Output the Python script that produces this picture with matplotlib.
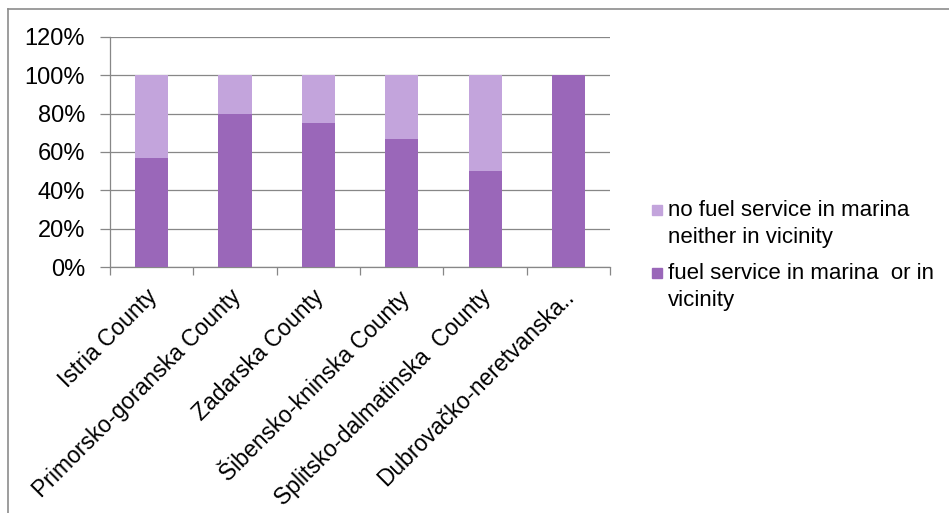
import matplotlib
matplotlib.use("Agg")
import matplotlib.pyplot as plt
import matplotlib.transforms as mtransforms
import numpy as np
from matplotlib.lines import Line2D
from matplotlib.patches import Rectangle
from matplotlib.ticker import FixedLocator, PercentFormatter

plt.rcParams["font.family"] = ["Liberation Sans", "DejaVu Sans"]

counties = [
    "Istria County",
    "Primorsko-goranska County",
    "Zadarska County",
    "Šibensko-kninska County",
    "Splitsko-dalmatinska  County",
    "Dubrovačko-neretvanska..",
]
fuel_share = [0.57, 0.80, 0.75, 0.667, 0.50, 1.00]
no_fuel_share = [0.43, 0.20, 0.25, 0.333, 0.50, 0.00]

label_fuel = "fuel service in marina  or in\nvicinity"
label_no_fuel = "no fuel service in marina\nneither in vicinity"

dark = "#9a67b9"
light = "#c3a4dc"
grid_grey = "#878787"

W, H = 949, 513
fig = plt.figure(figsize=(W / 100, H / 100), dpi=100)
ax = fig.add_axes([0.116, 0.4795, 0.527, 0.4485])

centers = np.arange(len(counties)) + 0.5
ax.bar(centers, fuel_share, width=0.4, color=dark, zorder=3)
ax.bar(centers, no_fuel_share, width=0.4, bottom=fuel_share, color=light, zorder=3)

ax.set_xlim(0, len(counties))
ax.set_ylim(0, 1.2)
ax.yaxis.set_major_locator(FixedLocator(np.arange(0, 1.21, 0.2)))
ax.yaxis.set_major_formatter(PercentFormatter(1.0, decimals=0))
ax.grid(axis="y", color=grid_grey, linewidth=0.9, zorder=0)

for s in ["top", "right"]:
    ax.spines[s].set_visible(False)
for s in ["left", "bottom"]:
    ax.spines[s].set_color(grid_grey)
    ax.spines[s].set_linewidth(0.9)

ax.tick_params(axis="y", length=7, width=0.9, color=grid_grey, pad=11, labelsize=17)

# boundaries carry the tick marks, centers carry the labels
ax.xaxis.set_major_locator(FixedLocator(np.arange(0, len(counties) + 1)))
ax.xaxis.set_minor_locator(FixedLocator(centers))
ax.set_xticklabels([], minor=False)
ax.set_xticklabels(counties, minor=True, rotation=45, ha="right", va="top",
                   rotation_mode="anchor", fontsize=16.5)
ax.tick_params(axis="x", which="major", length=6, width=0.9, color=grid_grey)
ax.tick_params(axis="x", which="minor", length=0, pad=13)
shift = mtransforms.ScaledTranslation(-6 / 100, 0, fig.dpi_scale_trans)
for lab in ax.get_xticklabels(minor=True):
    lab.set_transform(lab.get_transform() + shift)

# legend drawn by hand so the swatch sits on the first text line
legend_rows = [(light, label_no_fuel, 205), (dark, label_fuel, 268)]
for color, text, top in legend_rows:
    fig.add_artist(Rectangle((652 / W, 1 - (top + 10) / H), 10 / W, 10 / H,
                             color=color, transform=fig.transFigure))
    fig.text(668 / W, 1 - (top - 5) / H, text, fontsize=16, va="top", ha="left",
             linespacing=1.38)

# outer chart border (only top and left edges fall inside the image)
fig.add_artist(Line2D([8 / W, 8 / W], [0, 1 - 9 / H], color="#8c8c8c", lw=1.2,
                      transform=fig.transFigure))
fig.add_artist(Line2D([8 / W, 1], [1 - 9 / H, 1 - 9 / H], color="#8c8c8c", lw=1.2,
                      transform=fig.transFigure))

fig.savefig("out.png", dpi=100, facecolor="white")
